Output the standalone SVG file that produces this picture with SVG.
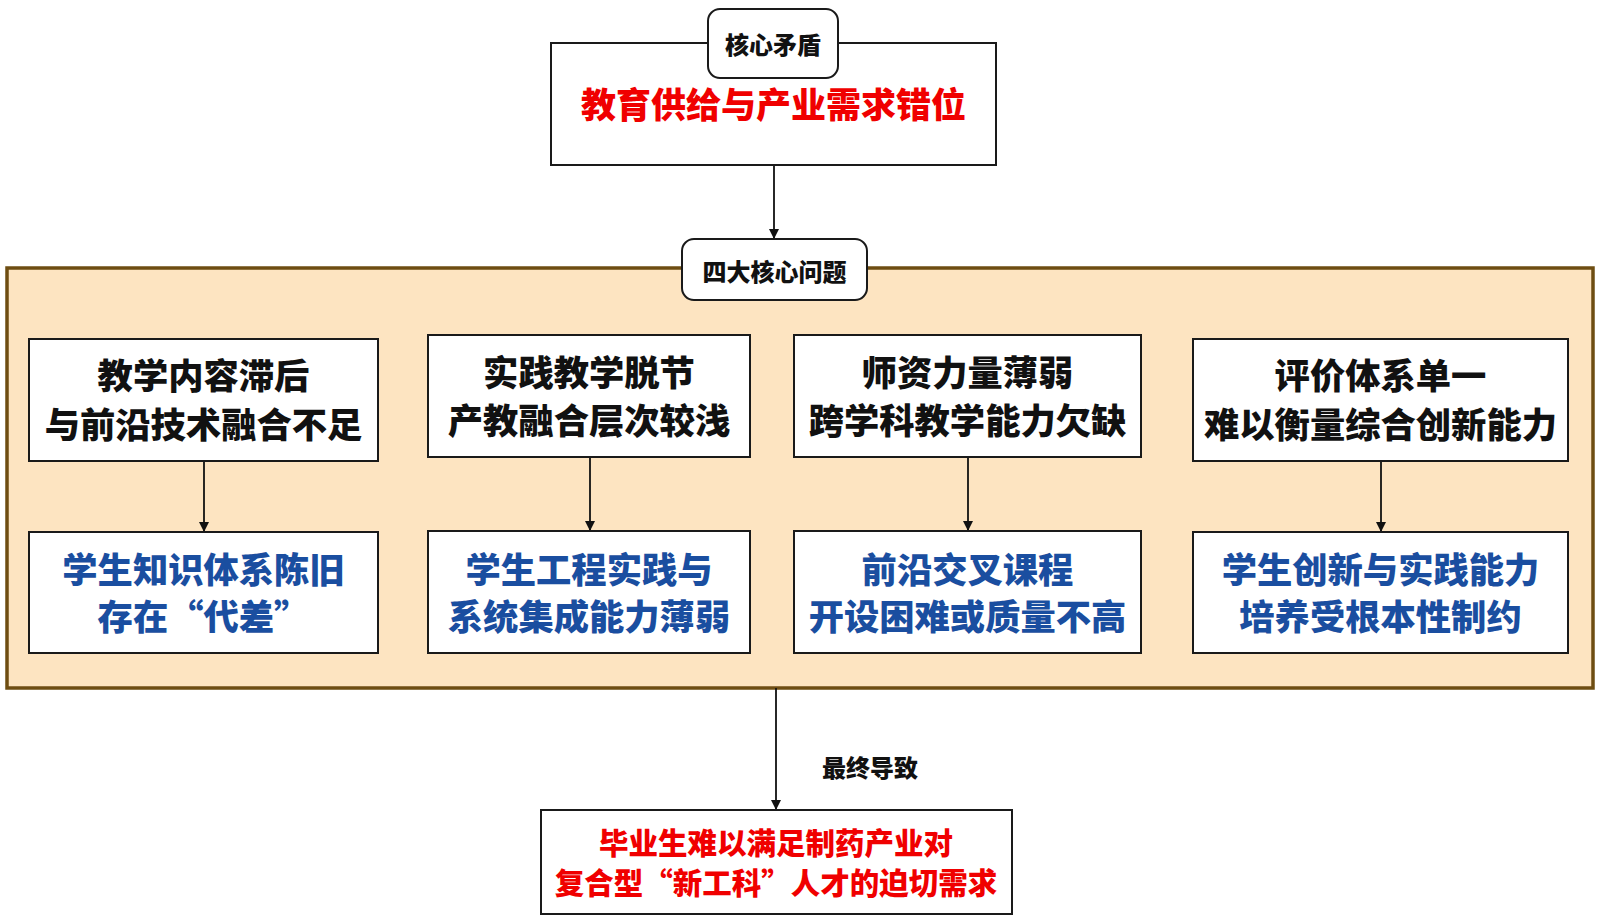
<svg xmlns="http://www.w3.org/2000/svg" width="1600" height="921" viewBox="0 0 1600 921">
  <style>
    text { font-family: "Noto Sans CJK SC", "Noto Sans", sans-serif; font-weight: 900; text-anchor: middle; }
    .box { fill: #ffffff; stroke: #1a1a1a; stroke-width: 2; }
    .tag { fill: #ffffff; stroke: #1a1a1a; stroke-width: 2; }
    .blk { fill: #111111; font-size: 35.3px; }
    .blu { fill: #1a4ea0; font-size: 35.3px; }
    .red { fill: #f00000; }
    .lab { fill: #111111; font-size: 24px; }
    .conn { stroke: #111111; stroke-width: 1.8; fill: none; marker-end: url(#arr); }
  </style>
  <defs>
    <marker id="arr" viewBox="0 0 10 10" refX="10" refY="5" markerWidth="10" markerHeight="10" markerUnits="userSpaceOnUse" orient="auto">
      <path d="M0,0 L10,5 L0,10 z" fill="#111111"/>
    </marker>
  </defs>
  <rect width="1600" height="921" fill="#ffffff"/>

  <g id="container">
    <rect x="7" y="268" width="1586" height="420" fill="#fde4c1" stroke="#6e4d12" stroke-width="3.5"/>
  </g>

  <g id="connectors">
    <line class="conn" x1="774" y1="165" x2="774" y2="239"/>
    <line class="conn" x1="204" y1="461" x2="204" y2="532"/>
    <line class="conn" x1="590" y1="457" x2="590" y2="531"/>
    <line class="conn" x1="968" y1="457" x2="968" y2="531"/>
    <line class="conn" x1="1381" y1="461" x2="1381" y2="532"/>
    <line class="conn" x1="776" y1="688" x2="776" y2="810"/>
    <text class="lab" x="870" y="777">最终导致</text>
  </g>

  <g id="core">
    <rect class="box" x="551" y="43" width="445" height="122"/>
    <text class="red" x="773.5" y="118" style="font-size:35px">教育供给与产业需求错位</text>
    <rect class="tag" x="708" y="9" width="130" height="69" rx="12"/>
    <text class="lab" x="773" y="54">核心矛盾</text>
  </g>

  <g id="four-label">
    <rect class="tag" x="682" y="239" width="185" height="61" rx="12"/>
    <text class="lab" x="774.5" y="281">四大核心问题</text>
  </g>

  <g id="p1">
    <rect class="box" x="29" y="339" width="349" height="122"/>
    <text class="blk" x="203.5" y="389">教学内容滞后</text>
    <text class="blk" x="203.5" y="438">与前沿技术融合不足</text>
  </g>
  <g id="r1">
    <rect class="box" x="29" y="532" width="349" height="121"/>
    <text class="blu" x="203.5" y="583">学生知识体系陈旧</text>
    <text class="blu" x="203.5" y="630">存在“代差”</text>
  </g>

  <g id="p2">
    <rect class="box" x="428" y="335" width="322" height="122"/>
    <text class="blk" x="589" y="386">实践教学脱节</text>
    <text class="blk" x="589" y="434">产教融合层次较浅</text>
  </g>
  <g id="r2">
    <rect class="box" x="428" y="531" width="322" height="122"/>
    <text class="blu" x="589" y="583">学生工程实践与</text>
    <text class="blu" x="589" y="630">系统集成能力薄弱</text>
  </g>

  <g id="p3">
    <rect class="box" x="794" y="335" width="347" height="122"/>
    <text class="blk" x="967.5" y="386">师资力量薄弱</text>
    <text class="blk" x="967.5" y="434">跨学科教学能力欠缺</text>
  </g>
  <g id="r3">
    <rect class="box" x="794" y="531" width="347" height="122"/>
    <text class="blu" x="967.5" y="583">前沿交叉课程</text>
    <text class="blu" x="967.5" y="630">开设困难或质量不高</text>
  </g>

  <g id="p4">
    <rect class="box" x="1193" y="339" width="375" height="122"/>
    <text class="blk" x="1380.5" y="389">评价体系单一</text>
    <text class="blk" x="1380.5" y="438">难以衡量综合创新能力</text>
  </g>
  <g id="r4">
    <rect class="box" x="1193" y="532" width="375" height="121"/>
    <text class="blu" x="1380.5" y="583">学生创新与实践能力</text>
    <text class="blu" x="1380.5" y="630">培养受根本性制约</text>
  </g>

  <g id="result">
    <rect class="box" x="541" y="810" width="471" height="104"/>
    <text class="red" x="776" y="854" style="font-size:29.5px">毕业生难以满足制药产业对</text>
    <text class="red" x="776" y="894" style="font-size:29.5px">复合型“新工科”人才的迫切需求</text>
  </g>
</svg>
